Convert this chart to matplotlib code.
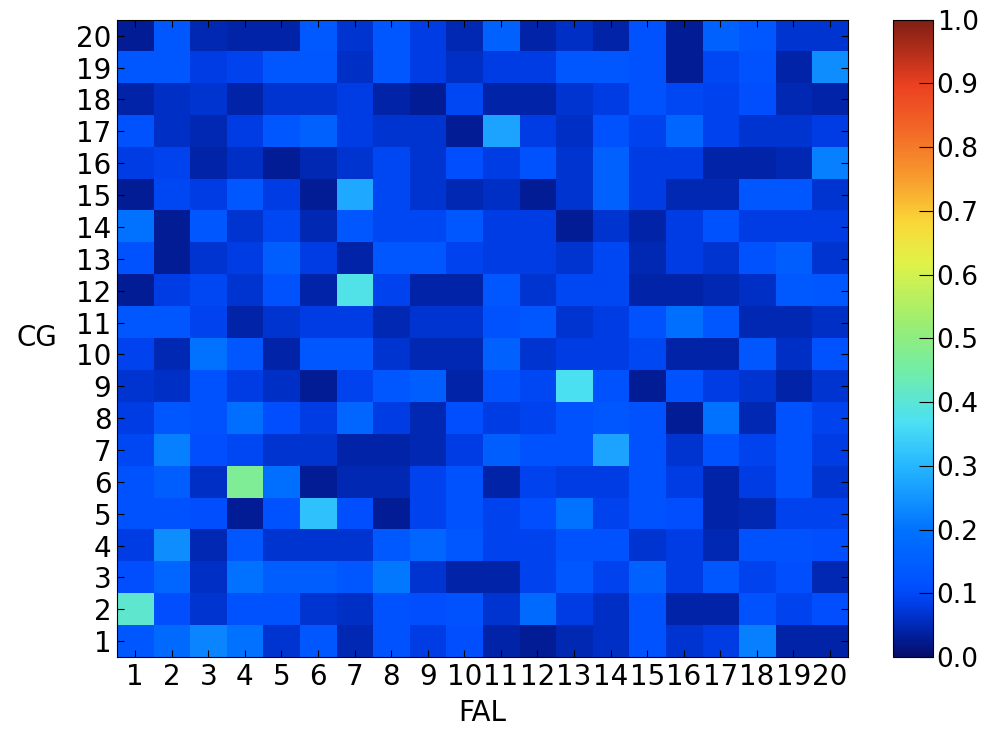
import matplotlib
matplotlib.use("Agg")
import matplotlib.pyplot as plt
from matplotlib.colors import LinearSegmentedColormap
import numpy as np

fal_labels = [str(i) for i in range(1, 21)]
cg_labels = [str(i) for i in range(1, 21)]

# rows listed from CG=20 (top) down to CG=1 (bottom); columns FAL 1..20
cg20 = [0.03, 0.13, 0.05, 0.04, 0.04, 0.14, 0.07, 0.13, 0.08, 0.05, 0.16, 0.04, 0.06, 0.04, 0.12, 0.03, 0.16, 0.13, 0.07, 0.07]
cg19 = [0.13, 0.13, 0.08, 0.09, 0.13, 0.13, 0.06, 0.13, 0.08, 0.06, 0.08, 0.08, 0.13, 0.13, 0.12, 0.03, 0.10, 0.12, 0.04, 0.24]
cg18 = [0.04, 0.06, 0.07, 0.04, 0.07, 0.07, 0.08, 0.04, 0.03, 0.10, 0.04, 0.04, 0.07, 0.08, 0.12, 0.10, 0.09, 0.11, 0.05, 0.04]
cg17 = [0.12, 0.06, 0.05, 0.08, 0.13, 0.16, 0.08, 0.07, 0.07, 0.03, 0.27, 0.08, 0.06, 0.12, 0.09, 0.17, 0.09, 0.07, 0.07, 0.08]
cg16 = [0.08, 0.09, 0.04, 0.06, 0.03, 0.05, 0.07, 0.10, 0.07, 0.11, 0.08, 0.12, 0.07, 0.16, 0.08, 0.08, 0.04, 0.04, 0.05, 0.22]
cg15 = [0.03, 0.10, 0.08, 0.13, 0.08, 0.03, 0.28, 0.10, 0.07, 0.05, 0.06, 0.03, 0.07, 0.16, 0.08, 0.05, 0.05, 0.13, 0.13, 0.07]
cg14 = [0.20, 0.03, 0.13, 0.07, 0.10, 0.05, 0.13, 0.10, 0.10, 0.13, 0.08, 0.08, 0.03, 0.07, 0.04, 0.08, 0.12, 0.08, 0.08, 0.08]
cg13 = [0.12, 0.03, 0.07, 0.08, 0.15, 0.08, 0.04, 0.13, 0.13, 0.09, 0.08, 0.08, 0.07, 0.10, 0.05, 0.08, 0.07, 0.12, 0.15, 0.07]
cg12 = [0.03, 0.08, 0.10, 0.07, 0.12, 0.04, 0.38, 0.09, 0.04, 0.04, 0.13, 0.07, 0.10, 0.10, 0.04, 0.04, 0.05, 0.06, 0.14, 0.13]
cg11 = [0.13, 0.13, 0.09, 0.04, 0.07, 0.08, 0.08, 0.05, 0.07, 0.07, 0.12, 0.13, 0.07, 0.08, 0.12, 0.19, 0.13, 0.05, 0.05, 0.06]
cg10 = [0.09, 0.05, 0.20, 0.13, 0.04, 0.13, 0.13, 0.07, 0.05, 0.05, 0.16, 0.07, 0.08, 0.08, 0.10, 0.04, 0.04, 0.13, 0.06, 0.12]
cg09 = [0.07, 0.06, 0.12, 0.08, 0.06, 0.03, 0.09, 0.13, 0.15, 0.04, 0.12, 0.10, 0.37, 0.12, 0.03, 0.12, 0.08, 0.07, 0.04, 0.07]
cg08 = [0.08, 0.13, 0.12, 0.19, 0.11, 0.08, 0.17, 0.08, 0.05, 0.11, 0.08, 0.09, 0.12, 0.13, 0.12, 0.03, 0.20, 0.05, 0.12, 0.09]
cg07 = [0.10, 0.22, 0.11, 0.10, 0.07, 0.07, 0.04, 0.04, 0.05, 0.08, 0.15, 0.12, 0.12, 0.27, 0.12, 0.07, 0.12, 0.09, 0.12, 0.08]
cg06 = [0.12, 0.15, 0.06, 0.47, 0.19, 0.03, 0.05, 0.05, 0.09, 0.12, 0.04, 0.09, 0.08, 0.08, 0.12, 0.08, 0.04, 0.08, 0.12, 0.07]
cg05 = [0.12, 0.12, 0.11, 0.03, 0.12, 0.32, 0.11, 0.03, 0.09, 0.12, 0.09, 0.11, 0.20, 0.09, 0.12, 0.11, 0.04, 0.05, 0.09, 0.09]
cg04 = [0.08, 0.24, 0.05, 0.13, 0.07, 0.07, 0.07, 0.14, 0.17, 0.13, 0.09, 0.09, 0.12, 0.12, 0.07, 0.08, 0.05, 0.12, 0.12, 0.11]
cg03 = [0.11, 0.17, 0.06, 0.20, 0.15, 0.15, 0.13, 0.21, 0.07, 0.04, 0.04, 0.09, 0.13, 0.09, 0.16, 0.08, 0.13, 0.09, 0.11, 0.05]
cg02 = [0.41, 0.11, 0.07, 0.12, 0.12, 0.07, 0.06, 0.12, 0.11, 0.12, 0.07, 0.18, 0.08, 0.06, 0.12, 0.04, 0.04, 0.12, 0.09, 0.11]
cg01 = [0.13, 0.18, 0.23, 0.20, 0.07, 0.13, 0.05, 0.12, 0.08, 0.11, 0.04, 0.03, 0.05, 0.06, 0.12, 0.07, 0.08, 0.22, 0.04, 0.04]

rows_bottom_up = [cg01, cg02, cg03, cg04, cg05, cg06, cg07, cg08, cg09, cg10,
                  cg11, cg12, cg13, cg14, cg15, cg16, cg17, cg18, cg19, cg20]
cbar_ticks = [0.0, 0.1, 0.2, 0.3, 0.4, 0.5, 0.6, 0.7, 0.8, 0.9, 1.0]

Z = np.array(rows_bottom_up)

# jet-like colour ramp as it appears in the reference picture
cmap = LinearSegmentedColormap.from_list('refjet', [
    (0.00, (0.02, 0.05, 0.42)),
    (0.04, (0.00, 0.14, 0.66)),
    (0.08, (0.00, 0.24, 0.90)),
    (0.11, (0.00, 0.31, 1.00)),
    (0.20, (0.00, 0.45, 1.00)),
    (0.30, (0.15, 0.72, 1.00)),
    (0.37, (0.30, 0.88, 0.95)),
    (0.45, (0.45, 0.93, 0.65)),
    (0.52, (0.60, 0.93, 0.45)),
    (0.62, (0.88, 0.95, 0.28)),
    (0.68, (0.98, 0.85, 0.22)),
    (0.75, (0.97, 0.62, 0.18)),
    (0.83, (0.95, 0.40, 0.15)),
    (0.90, (0.92, 0.25, 0.13)),
    (1.00, (0.50, 0.12, 0.08)),
])

plt.rcParams['font.family'] = ['DejaVu Sans']
fig = plt.figure(figsize=(9.91, 7.31), dpi=100)
ax = fig.add_axes([0.118, 0.101, 0.738, 0.872])
im = ax.imshow(Z, cmap=cmap, vmin=0, vmax=1, origin='lower',
               extent=(0.5, 20.5, 0.5, 20.5), aspect='auto', interpolation='nearest')
ax.set_xticks(range(1, 21))
ax.set_xticklabels(fal_labels, fontsize=20)
ax.set_yticks(range(1, 21))
ax.set_yticklabels(cg_labels, fontsize=20)
ax.tick_params(direction='in', top=True, right=True, length=5, pad=4)
ax.set_xlabel('FAL', fontsize=20, labelpad=6)
ax.set_ylabel('CG', fontsize=20, rotation=0, labelpad=28, va='center')

cax = fig.add_axes([0.901, 0.101, 0.040, 0.872])
cb = fig.colorbar(im, cax=cax, ticks=cbar_ticks)
cb.ax.set_yticklabels([f"{t:.1f}" for t in cbar_ticks], fontsize=19)
cb.ax.tick_params(direction='in', length=10, pad=3)

fig.savefig('out.png', dpi=100)
